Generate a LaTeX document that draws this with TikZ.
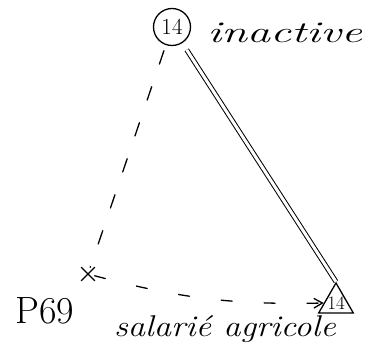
\documentclass[tikz,border=0pt]{standalone}
\usepackage{xcolor}
\usepackage{graphicx}
\definecolor{ink}{HTML}{000000}
\usepackage{tikz}
\usetikzlibrary{arrows.meta,positioning,shapes.geometric,shapes.misc}
\tikzset{>={Straight Barb[length=3mm,width=3.4mm]},
  pen/.style={draw=ink,line width=1.3pt,line cap=round},
  ring/.style={pen,circle,minimum size=37pt,inner sep=0pt,font=\fontsize{23}{23}\selectfont},
  tent/.style={pen,regular polygon,regular polygon sides=3,minimum size=40pt,inner sep=0pt},
  cross/.style={pen,cross out,minimum size=12pt,inner sep=0pt},
  hand/.style={font=\fontsize{30}{30}\selectfont\itshape,text=ink,inner sep=0pt},
  dashlink/.style={pen,dash pattern=on 14pt off 24pt},
  curvelink/.style={pen,dash pattern=on 11pt off 32pt,->},
  twinlink/.style={draw=ink,line width=1pt,double,double distance=3pt}}

\begin{document}
\begin{tikzpicture}[x=1pt,y=1pt]
  \useasboundingbox (0,0) rectangle (370,351);
  % top: inactive
  \node[ring] (i14) at (172,324) {14};
  \node[hand,right=16pt of i14,yshift=-6pt] (inact) {\scalebox{1.55}[1]{inactive}};
  % bottom left: P69
  \node[cross] (p69x) at (88,77) {};
  \node[hand,font=\fontsize{38}{38}\selectfont] (p69) at (45,40) {P69};
  % bottom right: salarie agricole
  \node[tent,label={[font=\fontsize{19}{19}\selectfont,inner sep=0pt]center:14}] (t14) at (336,48) {};
  \node[hand] (agri) at (225,22) {\scalebox{1.15}[1]{salarié agricole}};
  \draw[dashlink,shorten <=6pt] (i14) -- (p69x);
  \draw[twinlink,shorten <=8pt] (i14) -- (t14.corner 1);
  \draw[curvelink] (p69x) to[bend right=8] (t14.west);
\end{tikzpicture}
\end{document}
